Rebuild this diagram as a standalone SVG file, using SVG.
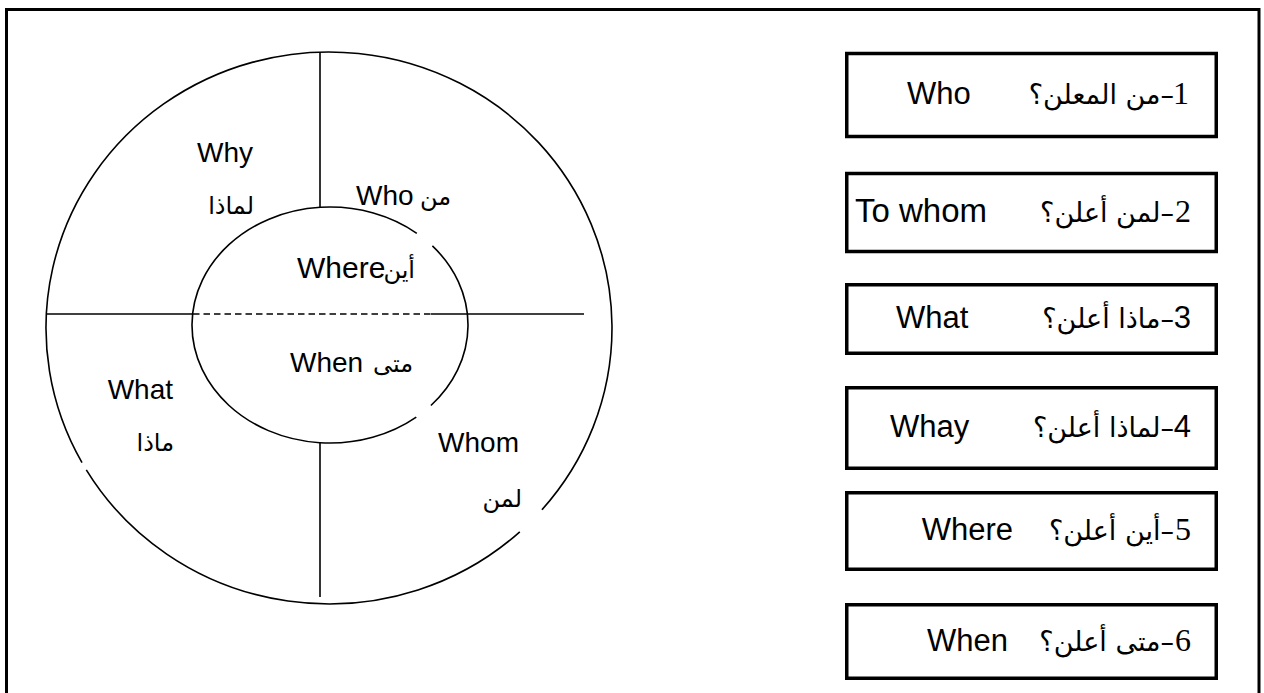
<svg xmlns="http://www.w3.org/2000/svg" width="1264" height="693" viewBox="0 0 1264 693">
<style>
.ln{fill:none;stroke:#000;stroke-width:1.6}
.box{fill:#fff;stroke:#000;stroke-width:3.5}
.en{font-family:"Liberation Sans",Arial,sans-serif;font-size:28px;fill:#000}
.en30{font-family:"Liberation Sans",Arial,sans-serif;font-size:30px;fill:#000}
.ar{font-family:"DejaVu Sans","Liberation Sans",sans-serif;font-size:24px;fill:#000}
.ben{font-family:"Liberation Sans",Arial,sans-serif;font-size:31px;fill:#000}
.num{font-family:"Liberation Serif","Times New Roman",serif;font-size:32px;fill:#000}
.nums{font-family:"Liberation Sans",Arial,sans-serif;font-size:31px;fill:#000}
.bar{font-family:"DejaVu Sans","Liberation Sans",sans-serif;font-size:27px;fill:#000}
</style>
<rect width="1264" height="693" fill="#fff"/>
<rect id="frame" x="6.5" y="9.5" width="1252.5" height="700" fill="none" stroke="#000" stroke-width="3"/>
<g id="wheel" class="ln">
<path d="M519.8,531.8 A283,276 0 0 1 86.3,469.9 M82.0,462.7 A283,276 0 1 1 541.9,509.8"/>
<path d="M432.4,245.9 A138,118 0 0 1 430.9,405.5 M416.3,417.1 A138,118 0 1 1 416.8,233.3"/>
<line x1="320" y1="52" x2="320" y2="207"/>
<line x1="320" y1="443" x2="320" y2="597"/>
<line x1="46" y1="314" x2="193" y2="314"/>
<line x1="193" y1="314" x2="431" y2="314" stroke-dasharray="6.5,4"/>
<line x1="431" y1="314" x2="584" y2="314"/>
</g>
<g id="seg-why">
<text class="en" x="197" y="162">Why</text>
<text class="ar" x="254" y="214" text-anchor="end">لماذا</text>
</g>
<g id="seg-who">
<text class="en" x="356" y="205">Who</text>
<text class="ar" x="451" y="205" text-anchor="end">من</text>
</g>
<g id="seg-where">
<text class="en30" x="297" y="278">Where</text>
<text class="ar" x="415" y="278" text-anchor="end">أين</text>
</g>
<g id="seg-when">
<text class="en" x="290" y="372">When</text>
<text class="ar" x="413" y="372" text-anchor="end">متى</text>
</g>
<g id="seg-what">
<text class="en" x="173" y="399" text-anchor="end">What</text>
<text class="ar" x="174" y="451" text-anchor="end">ماذا</text>
</g>
<g id="seg-whom">
<text class="en" x="519" y="452" text-anchor="end">Whom</text>
<text class="ar" x="522" y="507" text-anchor="end">لمن</text>
</g>
<g id="q1">
<rect class="box" x="846.75" y="53.5" width="369.5" height="83"/>
<text class="ben" x="907" y="104">Who</text>
<text class="bar" x="1174" y="104" direction="rtl" text-anchor="start">–من المعلن؟</text>
<text class="num" x="1189" y="104" text-anchor="end">1</text>
</g>
<g id="q2">
<rect class="box" x="846.75" y="173.5" width="369.5" height="78"/>
<text class="ben" x="855" y="222" style="font-size:33px">To whom</text>
<text class="bar" x="1174" y="222" direction="rtl" text-anchor="start">–لمن أعلن؟</text>
<text class="num" x="1191" y="222" text-anchor="end">2</text>
</g>
<g id="q3">
<rect class="box" x="846.75" y="284.75" width="369.5" height="68.5"/>
<text class="ben" x="896" y="328">What</text>
<text class="bar" x="1174" y="328" direction="rtl" text-anchor="start">–ماذا أعلن؟</text>
<text class="nums" x="1191" y="328" text-anchor="end">3</text>
</g>
<g id="q4">
<rect class="box" x="846.75" y="387.75" width="369.5" height="80.5"/>
<text class="ben" x="890" y="437">Whay</text>
<text class="bar" x="1174" y="437" direction="rtl" text-anchor="start">–لماذا أعلن؟</text>
<text class="nums" x="1191" y="437" text-anchor="end">4</text>
</g>
<g id="q5">
<rect class="box" x="846.75" y="492.75" width="369.5" height="76.5"/>
<text class="ben" x="1013" y="540" text-anchor="end">Where</text>
<text class="bar" x="1174" y="540" direction="rtl" text-anchor="start">–أين أعلن؟</text>
<text class="num" x="1191" y="540" text-anchor="end">5</text>
</g>
<g id="q6">
<rect class="box" x="846.75" y="604.75" width="369.5" height="73.5"/>
<text class="ben" x="1008" y="651" text-anchor="end">When</text>
<text class="bar" x="1174" y="651" direction="rtl" text-anchor="start">–متى أعلن؟</text>
<text class="num" x="1191" y="651" text-anchor="end">6</text>
</g>
</svg>
